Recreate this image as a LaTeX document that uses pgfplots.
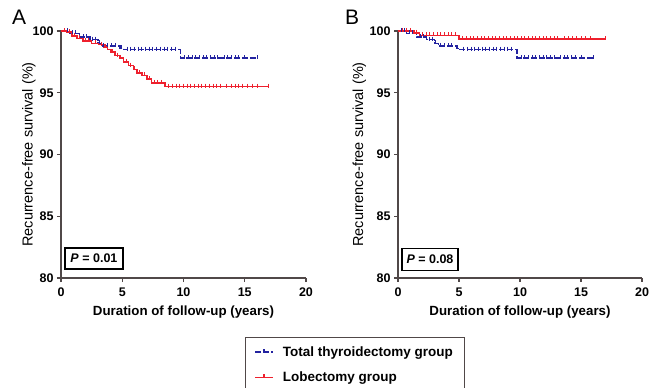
\documentclass[border=0pt]{standalone}
\usepackage{fontspec}
\setmainfont{Liberation Sans}
\usepackage{pgfplots}
\pgfplotsset{compat=1.18}
\definecolor{tblue}{RGB}{35,35,160}
\definecolor{lred}{RGB}{238,32,45}
\definecolor{axgray}{RGB}{80,72,72}
\pgfplotsset{
 km/.style={
  scale only axis, height=247pt,
  xmin=0,xmax=20,ymin=80,ymax=100,
  axis lines=left, axis line style={-, line width=1.8pt, color=axgray},
  xtick={0,5,10,15,20}, ytick={80,85,90,95,100},
  tick align=outside, major tick length=4pt,
  every tick/.style={line width=1.3pt, color=axgray},
  tick label style={font=\fontsize{12.5}{12.5}\selectfont\bfseries},
  /pgf/number format/assume math mode=true,
  xticklabel style={yshift=-2pt},
  xlabel={Duration of follow-up (years)},
  xlabel style={font=\fontsize{13.3}{13.3}\selectfont\bfseries, at={(axis description cs:0.5,-0.138)}, anchor=center},
  ylabel={Recurrence-free survival (\%)},
  ylabel style={font=\fontsize{14.5}{14.5}\selectfont, anchor=center},
  clip=false,
  legend image code/.code={\draw[#1, mark=none] (0pt,0pt) -- (18pt,0pt); \draw[#1, solid, mark=none] (9pt,0pt) -- (9pt,3.5pt);},
 },
 stepblue/.style={const plot, tblue, line width=1.5pt, dash pattern=on 6pt off 2pt},
 stepred/.style={const plot, lred, line width=1.5pt},
 censblue/.style={only marks, mark=|, mark size=2pt, tblue, line width=0.8pt, mark options={yshift=1pt}, forget plot},
 censred/.style={only marks, mark=|, mark size=2pt, lred, line width=0.8pt, mark options={yshift=1pt}, forget plot},
}
\begin{document}
\begin{tikzpicture}
\useasboundingbox (0,0) rectangle (659pt,388pt);
\node[anchor=base west, inner sep=0pt, font=\fontsize{21}{21}\selectfont] at (12pt,363pt) {A};
\node[anchor=base west, inner sep=0pt, font=\fontsize{21}{21}\selectfont] at (345pt,363pt) {B};
% Panel A
\begin{axis}[km, width=245pt, at={(61pt,110pt)}, anchor=south west,
  ylabel style={at={(axis description cs:-0.131,0.5)}},
  legend style={at={(rel axis cs:0.751,-0.239)}, anchor=north west, draw=axgray, line width=0.8pt,
    font=\fontsize{13.5}{13.5}\selectfont\bfseries, inner xsep=9pt, inner ysep=7pt, row sep=10pt},
  legend cell align=left]
\addplot[stepblue] coordinates {(0,100) (0.7,99.8) (1.5,99.5) (2.35,99.3) (3.0,99.0) (3.3,98.8) (4.8,98.6) (5.1,98.5) (9.75,97.8) (16.0,97.8)};
\addlegendentry{\hspace{7pt}Total thyroidectomy group}
\addplot[stepred] coordinates {(0,100) (0.5,99.9) (0.9,99.6) (1.3,99.4) (1.8,99.2) (2.5,99.0) (3.1,98.9) (3.5,98.7) (3.8,98.5) (4.1,98.3) (4.4,98.0) (4.8,97.8) (5.1,97.5) (5.5,97.2) (5.9,96.9) (6.2,96.6) (6.6,96.4) (7.0,96.1) (7.4,95.8) (8.5,95.5) (16.9,95.5)};
\addlegendentry{\hspace{7pt}Lobectomy group}
\addplot[censblue] coordinates {(0.3,100) (0.5,100) (0.9,99.8) (1.2,99.8) (1.8,99.5) (2.1,99.5) (2.6,99.3) (2.8,99.3) (3.1,99.0) (3.5,98.8) (3.8,98.8) (4.1,98.8) (4.4,98.8) (4.9,98.6) (5.4,98.5) (5.7,98.5) (6.0,98.5) (6.3,98.5) (6.6,98.5) (6.9,98.5) (7.2,98.5) (7.5,98.5) (7.8,98.5) (8.1,98.5) (8.4,98.5) (8.7,98.5) (9.0,98.5) (9.3,98.5) (10.1,97.8) (10.4,97.8) (10.7,97.8) (11.0,97.8) (11.3,97.8) (11.6,97.8) (11.9,97.8) (12.2,97.8) (12.5,97.8) (12.8,97.8) (13.3,97.8) (13.6,97.8) (13.9,97.8) (14.2,97.8) (14.5,97.8) (15.0,97.8) (16.0,97.8)};
\addplot[censred] coordinates {(0.3,100) (0.7,99.9) (1.1,99.6) (1.5,99.4) (2.0,99.2) (2.2,99.2) (2.8,99.0) (3.3,98.9) (3.6,98.7) (4.2,98.3) (4.6,98.0) (5.3,97.5) (5.7,97.2) (6.0,96.9) (6.4,96.6) (6.8,96.4) (7.2,96.1) (7.6,95.8) (7.9,95.8) (8.2,95.8) (8.8,95.5) (9.1,95.5) (9.4,95.5) (9.7,95.5) (10.0,95.5) (10.3,95.5) (10.6,95.5) (10.9,95.5) (11.2,95.5) (11.5,95.5) (11.8,95.5) (12.1,95.5) (12.4,95.5) (12.7,95.5) (13.0,95.5) (13.5,95.5) (13.9,95.5) (14.2,95.5) (14.5,95.5) (14.8,95.5) (15.2,95.5) (15.6,95.5) (16.0,95.5) (16.9,95.5)};
\node[draw=black, line width=1.5pt, minimum width=58pt, minimum height=21pt, inner sep=2pt, font=\fontsize{12.5}{12.5}\selectfont\bfseries] at (axis cs:2.69,81.58) {\textit{P} = 0.01};
\end{axis}
% Panel B
\begin{axis}[km, width=244pt, at={(398pt,110pt)}, anchor=south west,
  ylabel style={at={(axis description cs:-0.158,0.5)}}]
\addplot[stepblue] coordinates {(0,100) (0.7,99.8) (1.5,99.5) (2.35,99.3) (3.0,99.0) (3.3,98.8) (4.8,98.6) (5.1,98.5) (9.75,97.8) (16.0,97.8)};
\addplot[stepred] coordinates {(0,100) (1.3,99.85) (1.75,99.65) (5.0,99.35) (17.0,99.35)};
\addplot[censblue] coordinates {(0.3,100) (0.5,100) (0.9,99.8) (1.2,99.8) (1.8,99.5) (2.1,99.5) (2.6,99.3) (2.8,99.3) (3.1,99.0) (3.5,98.8) (3.8,98.8) (4.1,98.8) (4.4,98.8) (4.9,98.6) (5.4,98.5) (5.7,98.5) (6.0,98.5) (6.3,98.5) (6.6,98.5) (6.9,98.5) (7.2,98.5) (7.5,98.5) (7.8,98.5) (8.1,98.5) (8.4,98.5) (8.7,98.5) (9.0,98.5) (9.3,98.5) (10.1,97.8) (10.4,97.8) (10.7,97.8) (11.0,97.8) (11.3,97.8) (11.6,97.8) (11.9,97.8) (12.2,97.8) (12.5,97.8) (12.8,97.8) (13.3,97.8) (13.6,97.8) (13.9,97.8) (14.2,97.8) (14.5,97.8) (15.0,97.8) (16.0,97.8)};
\addplot[censred] coordinates {(0.4,100) (0.7,100) (1.0,100) (1.5,99.85) (2.0,99.65) (2.3,99.65) (2.6,99.65) (2.9,99.65) (3.2,99.65) (3.5,99.65) (3.8,99.65) (4.1,99.65) (4.4,99.65) (4.7,99.65) (5.3,99.35) (5.6,99.35) (5.9,99.35) (6.2,99.35) (6.5,99.35) (6.8,99.35) (7.1,99.35) (7.4,99.35) (7.7,99.35) (8.0,99.35) (8.3,99.35) (8.6,99.35) (8.9,99.35) (9.2,99.35) (9.5,99.35) (9.8,99.35) (10.1,99.35) (10.4,99.35) (10.7,99.35) (11.0,99.35) (11.3,99.35) (11.6,99.35) (11.9,99.35) (12.2,99.35) (12.5,99.35) (12.8,99.35) (13.1,99.35) (13.6,99.35) (14.0,99.35) (14.3,99.35) (14.6,99.35) (15.0,99.35) (15.4,99.35) (15.8,99.35) (17.0,99.35)};
\node[draw=black, line width=1.5pt, minimum width=56pt, minimum height=22pt, inner sep=2pt, font=\fontsize{12.5}{12.5}\selectfont\bfseries] at (axis cs:2.62,81.5) {\textit{P} = 0.08};
\end{axis}
\end{tikzpicture}
\end{document}
